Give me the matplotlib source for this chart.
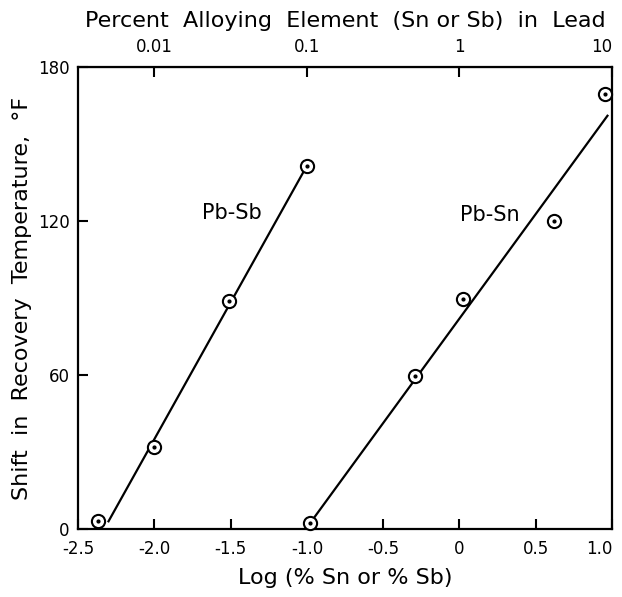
import matplotlib
matplotlib.use("Agg")
import matplotlib.pyplot as plt

# Data (log % alloying element vs shift in recovery temperature, °F)
pbsb_x = [-2.37, -2.0, -1.51, -1.0]
pbsb_y = [3, 32, 89, 141.5]
pbsn_x = [-0.98, -0.29, 0.025, 0.62, 0.955]
pbsn_y = [2.5, 59.5, 89.5, 120, 169.5]

# Fitted straight lines (end points)
pbsb_fit_x = [-2.30, -1.0]
pbsb_fit_y = [3, 141.5]
pbsn_fit_x = [-0.97, 0.97]
pbsn_fit_y = [3, 161]

bottom_ticks = [-2.5, -2.0, -1.5, -1.0, -0.5, 0, 0.5, 1.0]
bottom_labels = ["-2.5", "-2.0", "-1.5", "-1.0", "-0.5", "0", "0.5", "1.0"]
top_ticks = [-2, -1, 0, 1]
top_labels = ["0.01", "0.1", "1", "10"]
y_ticks = [0, 60, 120, 180]

plt.rcParams['font.family'] = ['DejaVu Sans']

fig = plt.figure(figsize=(6.22, 5.97), dpi=100)
ax = fig.add_axes([0.1254, 0.1139, 0.984 - 0.1254, 0.8878 - 0.1139])

lw = 1.6
ax.plot(pbsb_fit_x, pbsb_fit_y, color='black', lw=lw, zorder=2)
ax.plot(pbsn_fit_x, pbsn_fit_y, color='black', lw=lw, zorder=2)
for xs, ys in ((pbsb_x, pbsb_y), (pbsn_x, pbsn_y)):
    ax.plot(xs, ys, 'o', ms=9.5, mfc='white', mec='black', mew=1.5, ls='none', zorder=3, clip_on=False)
    ax.plot(xs, ys, 'o', ms=2, mfc='black', mec='black', ls='none', zorder=4, clip_on=False)

ax.text(-1.49, 123, "Pb-Sb", ha='center', va='center', fontsize=15)
ax.text(0.20, 122.5, "Pb-Sn", ha='center', va='center', fontsize=15)

ax.set_xlim(-2.5, 1.0)
ax.set_ylim(0, 180)

ax.set_xticks(bottom_ticks)
ax.set_xticklabels(bottom_labels)
ax.set_yticks(y_ticks)
ax.tick_params(axis='both', direction='in', length=7, width=1.5, labelsize=12, pad=6)
ax.tick_params(axis='x', pad=8)
ax.get_xticklabels()[-1].set_ha('right')

for s in ax.spines.values():
    s.set_linewidth(1.6)

sec = ax.secondary_xaxis('top')
sec.set_xticks(top_ticks)
sec.set_xticklabels(top_labels)
sec.tick_params(direction='in', length=7, width=1.5, labelsize=12, pad=8)
sec.get_xticklabels()[-1].set_ha('right')
sec.set_xlabel("Percent  Alloying  Element  (Sn or Sb)  in  Lead", fontsize=16, labelpad=8)

ax.set_xlabel("Log (% Sn or % Sb)", fontsize=16)
ax.xaxis.label.set_va('center')
ax.xaxis.set_label_coords(0.5, -0.106)
ax.set_ylabel("Shift  in  Recovery  Temperature,  °F", fontsize=16)
ax.yaxis.label.set_va('center')
ax.yaxis.set_label_coords(-0.105, 0.5)

fig.savefig("out.png", dpi=100)
